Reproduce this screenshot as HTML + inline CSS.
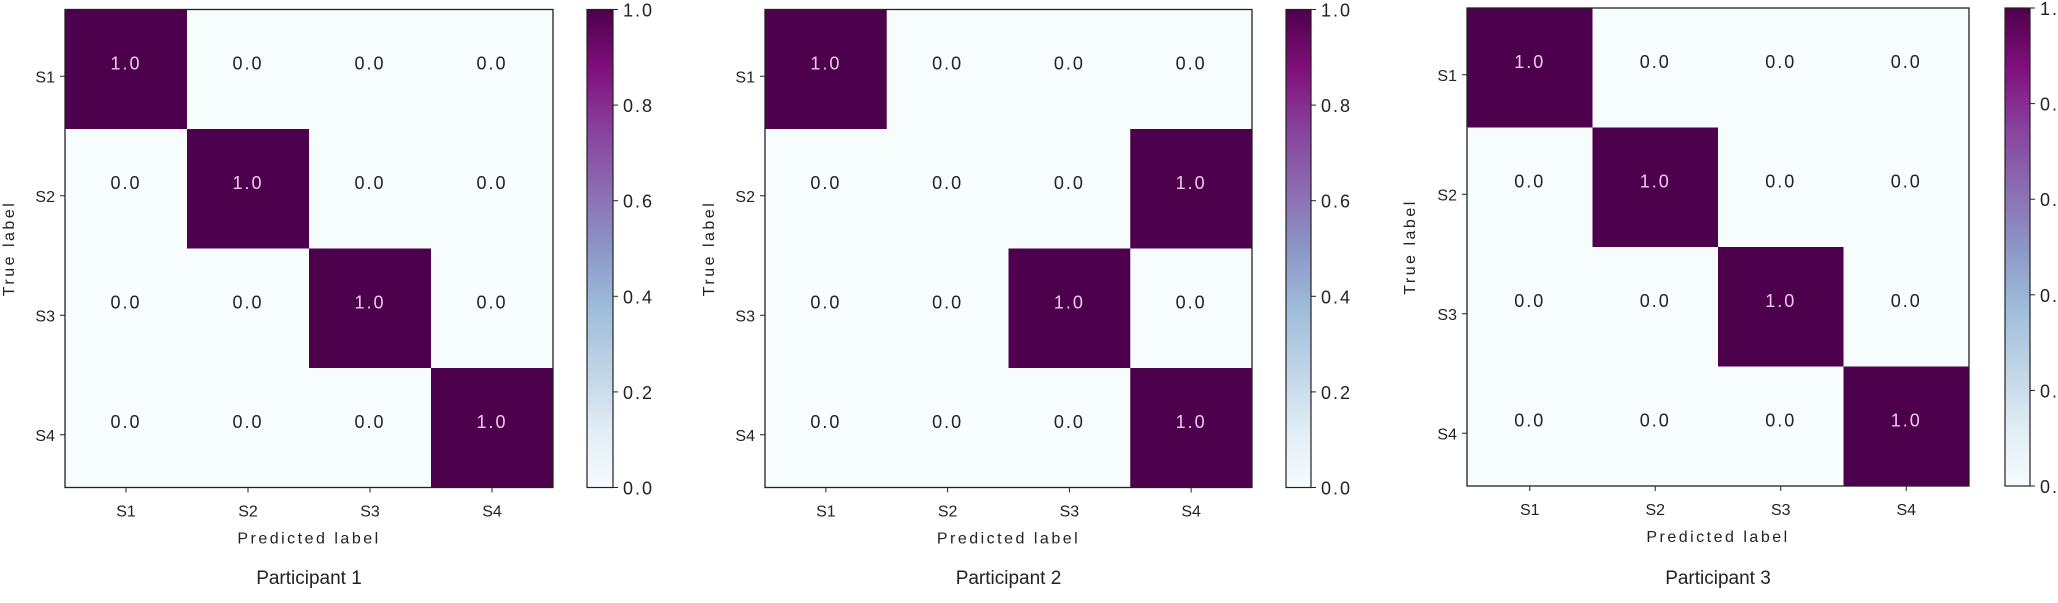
<!DOCTYPE html>
<html><head><meta charset="utf-8"><style>
html,body{margin:0;padding:0;background:#fff;width:2058px;height:603px;overflow:hidden}
svg text{font-family:"Liberation Sans","Noto Sans CJK SC",sans-serif;fill:#222}
</style></head><body>
<svg id="chart" width="2058" height="603" viewBox="0 0 2058 603" xmlns="http://www.w3.org/2000/svg">
<defs><linearGradient id="bupu" x1="0" y1="1" x2="0" y2="0">
<stop offset="0" stop-color="#f7fcfd"/><stop offset="0.125" stop-color="#e0ecf4"/><stop offset="0.25" stop-color="#bfd3e6"/><stop offset="0.375" stop-color="#9ebcda"/><stop offset="0.5" stop-color="#8c96c6"/><stop offset="0.625" stop-color="#8c6bb1"/><stop offset="0.75" stop-color="#88419d"/><stop offset="0.875" stop-color="#810f7c"/><stop offset="1" stop-color="#4d004b"/>
</linearGradient></defs>
</svg>
<script>
const categories = ["S1","S2","S3","S4"];
const participants = ["Participant 1","Participant 2","Participant 3"];
const matrixP1 = [[1,0,0,0],[0,1,0,0],[0,0,1,0],[0,0,0,1]];
const matrixP2 = [[1,0,0,0],[0,0,0,1],[0,0,1,0],[0,0,0,1]];
const matrixP3 = [[1,0,0,0],[0,1,0,0],[0,0,1,0],[0,0,0,1]];
const colorbarTicks = [0,0.2,0.4,0.6,0.8,1.0];

const matrices=[matrixP1,matrixP2,matrixP3];
const layouts=[
 {x0:65,x1:553,y0:9.5,y1:487.5,cb0:587,cb1:613,yl:14},
 {x0:765,x1:1252,y0:9.5,y1:487.5,cb0:1286,cb1:1311,yl:714},
 {x0:1467,x1:1969,y0:8,y1:486,cb0:2005,cb1:2030,yl:1415}
];
const svg=document.getElementById('chart');
const NS="http://www.w3.org/2000/svg";
function mk(tag,attrs,parent){const e=document.createElementNS(NS,tag);for(const k in attrs)e.setAttribute(k,attrs[k]);parent.appendChild(e);return e;}
function color(v){ // BuPu interpolation
 const stops=["#f7fcfd","#e0ecf4","#bfd3e6","#9ebcda","#8c96c6","#8c6bb1","#88419d","#810f7c","#4d004b"];
 const t=Math.max(0,Math.min(1,v))*(stops.length-1);const i=Math.min(stops.length-2,Math.floor(t));const f=t-i;
 const a=stops[i],b=stops[i+1];const p=s=>[1,3,5].map(j=>parseInt(s.substr(j,2),16));
 const ca=p(a),cb=p(b);return "rgb("+ca.map((c,k)=>Math.round(c+(cb[k]-c)*f)).join(",")+")";
}
matrices.forEach((m,pi)=>{
 const L=layouts[pi];
 const g=mk('g',{},svg);
 
 
 const n=categories.length;const cw=(L.x1-L.x0)/n,ch=(L.y1-L.y0)/n;
 const xs=j=>L.x0+j*cw, ys=i=>L.y0+i*ch;
 m.forEach((row,i)=>row.forEach((v,j)=>{
  const r=mk('rect',{x:xs(j),y:ys(i),width:cw+0.5,height:ch+0.5,fill:color(v)},g);
  
  
  const t=mk('text',{x:xs(j)+cw/2,y:ys(i)+ch/2,'text-anchor':'middle','font-size':18,'letter-spacing':2,fill:v>0.5?'#f0c8f0':'#222'},g);
  t.style.fill=v>0.5?'#f0c8f0':'#222';
  t.textContent=v.toFixed(1);
  
  
 }));
 mk('rect',{x:L.x0,y:L.y0,width:L.x1-L.x0,height:L.y1-L.y0,fill:'none',stroke:'#222','stroke-width':1.3},g);
 categories.forEach((c,k)=>{
  const cx=xs(k)+cw/2, cy=ys(k)+ch/2;
  mk('line',{x1:cx,x2:cx,y1:L.y1,y2:L.y1+5,stroke:'#222'},g);
  const tx=mk('text',{x:cx,y:L.y1+29,'text-anchor':'middle','font-size':16},g);tx.textContent=c;
  
  
  mk('line',{x1:L.x0-5,x2:L.x0,y1:cy+7,y2:cy+7,stroke:'#222'},g);
  const ty=mk('text',{x:L.x0-10,y:cy+13,'text-anchor':'end','font-size':16},g);ty.textContent=c;
  
  
 });
 const xl=mk('text',{x:(L.x0+L.x1)/2,y:L.y1+56,'text-anchor':'middle','font-size':16,'letter-spacing':2.5},g);xl.textContent='Predicted label';
 
 
 const yl=mk('text',{x:0,y:0,'text-anchor':'middle','font-size':16,'letter-spacing':2.5,transform:'translate('+L.yl+','+((L.y0+L.y1)/2)+') rotate(-90)'},g);yl.textContent='True label';
 
 
 const tt=mk('text',{x:(L.x0+L.x1)/2,y:584,'text-anchor':'middle','font-size':19},g);tt.textContent=participants[pi];
 
 
 // colorbar
 const cb=mk('rect',{x:L.cb0,y:L.y0,width:L.cb1-L.cb0,height:L.y1-L.y0,fill:'url(#bupu)',stroke:'#222','stroke-width':1.2},g);
 
 
 colorbarTicks.forEach(v=>{
  const y=L.y1-v*(L.y1-L.y0);
  mk('line',{x1:L.cb1,x2:L.cb1+5,y1:y,y2:y,stroke:'#222'},g);
  const t=mk('text',{x:L.cb1+10,y:y+7,'font-size':18,'letter-spacing':2},g);t.textContent=v.toFixed(1);
  
  
 });
});
</script>
</body></html>
